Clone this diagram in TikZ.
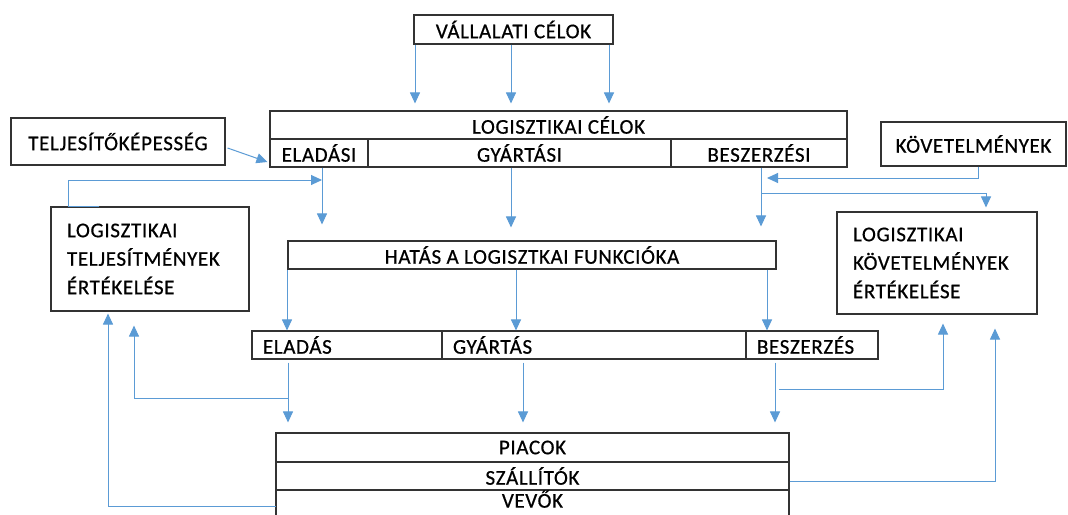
\documentclass[tikz,border=0pt]{standalone}
\usepackage{fontspec}
\setmainfont{Carlito}[LetterSpace=3,FakeBold=0.6]
\usetikzlibrary{arrows.meta}
\definecolor{flow}{HTML}{5B9BD5}
\definecolor{frame}{HTML}{333333}
\begin{document}
\begin{tikzpicture}[x=1pt,y=-1pt,
  box/.style={draw=frame,line width=1.1pt,rectangle,inner sep=0pt,
    font=\fontsize{21}{28.5}\selectfont,text=black},
  lbox/.style={box,align=left},
  arr/.style={draw=flow,line width=1pt,-{Triangle[length=11pt,width=10pt]}}]
\clip (0,0) rectangle (1068,514);
\fill[white] (0,0) rectangle (1068,514);

% goals
\node[box,minimum width=199pt,minimum height=29pt] (vc) at (513.5,29.5) {VÁLLALATI CÉLOK};
\node[box,minimum width=577pt,minimum height=28pt] (lc) at (558.5,125) {LOGISZTIKAI CÉLOK};
\node[box,minimum width=98pt,minimum height=28pt] (lcE) at (319,153) {ELADÁSI};
\node[box,minimum width=303pt,minimum height=28pt] (lcG) at (519.5,153) {GYÁRTÁSI};
\node[box,minimum width=176pt,minimum height=28pt] (lcB) at (759,153) {BESZERZÉSI};

% side inputs
\node[box,minimum width=214pt,minimum height=47pt] (tk) at (118,141.5) {TELJESÍTŐKÉPESSÉG};
\node[box,minimum width=185pt,minimum height=44pt] (kv) at (973.5,144) {KÖVETELMÉNYEK};

% evaluation boxes
\node[lbox,minimum width=198pt,minimum height=104pt,text width=166pt,inner xsep=16pt] (lte) at (150,259)
  {LOGISZTIKAI\\TELJESÍTMÉNYEK\\ÉRTÉKELÉSE};
\node[lbox,minimum width=200pt,minimum height=102pt,text width=168pt,inner xsep=16pt] (lke) at (937,263)
  {LOGISZTIKAI\\KÖVETELMÉNYEK\\ÉRTÉKELÉSE};

% effect on functions
\node[box,minimum width=488pt,minimum height=28pt] (hat) at (532,255) {HATÁS A LOGISZTKAI FUNKCIÓKA};
\node[lbox,minimum width=190pt,minimum height=28pt,text width=168pt,inner xsep=11pt] (fE) at (347,345) {ELADÁS};
\node[lbox,minimum width=304pt,minimum height=28pt,text width=282pt,inner xsep=11pt] (fG) at (594,345) {GYÁRTÁS};
\node[lbox,minimum width=132pt,minimum height=28pt,text width=110pt,inner xsep=11pt] (fB) at (812,345) {BESZERZÉS};

% markets
\node[box,minimum width=513pt,minimum height=29pt] (pi) at (532.5,447.5) {PIACOK};
\node[box,minimum width=513pt,minimum height=28pt] (sz) at (532.5,476) {SZÁLLÍTÓK};
\node[box,minimum width=513pt,minimum height=26pt,text height=13.3pt,text depth=4pt] (ve) at (532.5,503) {VEVŐK};

% company goals -> logistic goals
\foreach \xx in {415,511,609}
  \draw[arr,shorten >=7pt] (\xx,0 |- vc.south) -- (\xx,0 |- lc.north);

% performance capability -> sales goals
\draw[arr] ([xshift=2pt,yshift=-6.5pt]tk.east) -- ([xshift=-2pt,yshift=-9pt]lcE.west);

% performance evaluation -> sales goals
\coordinate (jE) at (322,180);
\draw[arr] (99,0 |- lte.north) -- (68,0 |- lte.north) -- (68,0 |- jE) -- (jE);

% logistic goals -> effect
\draw[arr,shorten >=16pt] (322,0 |- lcE.south) -- (322,0 |- hat.north);
\draw[arr,shorten >=13pt] (511,0 |- lcG.south) -- (511,0 |- hat.north);
\draw[arr,shorten >=14pt] (761,0 |- lcB.south) -- (761,0 |- hat.north);

% requirements -> procurement goals
\coordinate (jB) at (767,178);
\draw[arr] (978,0 |- kv.south) -- (978,0 |- jB) -- (jB);
\coordinate (kB) at (761,193);
\draw[arr,shorten >=4pt] (kB) -- (986,0 |- kB) -- (986,0 |- lke.north);

% effect -> functions
\draw[arr] (287,0 |- hat.south) -- (287,0 |- fE.north);
\draw[arr] (516,0 |- hat.south) -- (516,0 |- fG.north);
\draw[arr] (767,0 |- hat.south) -- (767,0 |- fB.north);

% functions -> markets
\draw[arr,shorten <=3pt,shorten >=10pt] (288,0 |- fE.south) -- (288,0 |- pi.north);
\draw[arr,shorten <=3pt,shorten >=10pt] (523,0 |- fG.south) -- (523,0 |- pi.north);
\draw[arr,shorten <=3pt,shorten >=10pt] (775,0 |- fB.south) -- (775,0 |- pi.north);

% feedback loops
\coordinate (kE) at (288,398);
\draw[arr,shorten >=14pt] (kE) -- (134,0 |- kE) -- (134,0 |- lte.south);
\coordinate (kF) at (779,389);
\draw[arr,shorten >=9pt] (kF) -- (943,0 |- kF) -- (943,0 |- lke.south);
\coordinate (kS) at ([yshift=-5pt]sz.east);
\draw[arr,shorten >=14pt] (kS) -- (995,0 |- kS) -- (995,0 |- lke.south);
\coordinate (kV) at (276,506);
\draw[arr,shorten >=2pt] (kV) -- (108,0 |- kV) -- (108,0 |- lte.south);
\end{tikzpicture}
\end{document}
